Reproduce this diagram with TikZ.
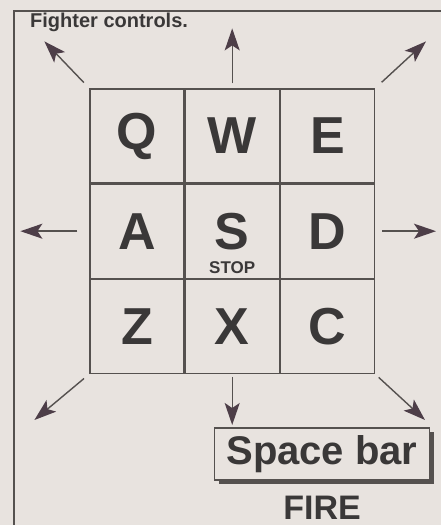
\documentclass[tikz,border=0pt]{standalone}
\usepackage{fontspec}
\setmainfont{Liberation Sans}
\usetikzlibrary{arrows.meta,positioning,shadows}
\definecolor{kpaper}{HTML}{E8E3DF}
\definecolor{kink}{HTML}{55514F}
\definecolor{ktext}{HTML}{3A3838}
\definecolor{khead}{HTML}{4D3E48}

\begin{document}
\begin{tikzpicture}[x=1pt,y=1pt,
  >={Stealth[length=22pt,width=15pt,inset=5pt,color=khead]},
  key/.style={draw=kink,line width=1.2pt,minimum size=94pt,inner sep=0pt,
              text=ktext,font=\fontsize{52}{52}\selectfont\bfseries},
  arr/.style={->,line width=1.4pt,draw=kink},
  lbl/.style={text=ktext,inner sep=0pt,font=\bfseries},
  spacebox/.style={draw=kink,line width=1.1pt,fill=kpaper,minimum width=215pt,
                   minimum height=52pt,text=ktext,
                   font=\fontsize{40}{40}\selectfont\bfseries,
                   drop shadow={shadow xshift=4pt,shadow yshift=-4pt,
                                fill=kink,opacity=1}}]

% paper and frame
\fill[kpaper] (0,0) rectangle (441,525);
\useasboundingbox (0,0) rectangle (441,525);
\draw[kink,line width=1.2pt] (441,514) -- (14,514) -- (14,0);

\node[lbl,anchor=base west,font=\fontsize{20}{20}\selectfont\bfseries] (title)
  at (30,497) {Fighter controls.};

% keys
\node[key] (q) at (137,389) {Q};
\node[key,right=0pt of q] (w) {W};
\node[key,right=0pt of w] (e) {E};
\node[key,below=0pt of q] (a) {A};
\node[key,right=0pt of a] (s) {S};
\node[key,right=0pt of s] (d) {D};
\node[key,below=0pt of a] (z) {Z};
\node[key,right=0pt of z] (x) {X};
\node[key,right=0pt of x] (c) {C};
\node[lbl,font=\fontsize{17}{17}\selectfont\bfseries] (stop)
  at ([yshift=-36pt]s.center) {STOP};

% arrow tips
\coordinate[above left=47pt and 45pt of q.north west] (tnw);
\coordinate[above=60pt of w.north] (tn);
\coordinate[above right=47pt and 51pt of e.north east] (tne);
\coordinate[left=69pt of a.west] (tw);
\coordinate[right=61pt of d.east] (te);
\coordinate[below left=46pt and 55pt of z.south west] (tsw);
\coordinate[below=51pt of x.south] (ts);
\coordinate[below right=46pt and 50pt of c.south east] (tse);

\foreach \a/\b/\s in {q.north west/tnw/8,w.north/tn/5,e.north east/tne/9,
                      a.west/tw/12,d.east/te/7,z.south west/tsw/7,
                      x.south/ts/3,c.south east/tse/5}
  \draw[arr,shorten <=\s pt] (\a) -- (\b);

% space bar
\node[spacebox] (space) at (322,71) {Space bar};
\node[lbl,below=15pt of space,font=\fontsize{34}{34}\selectfont\bfseries] (fire) {FIRE};
\end{tikzpicture}
\end{document}
